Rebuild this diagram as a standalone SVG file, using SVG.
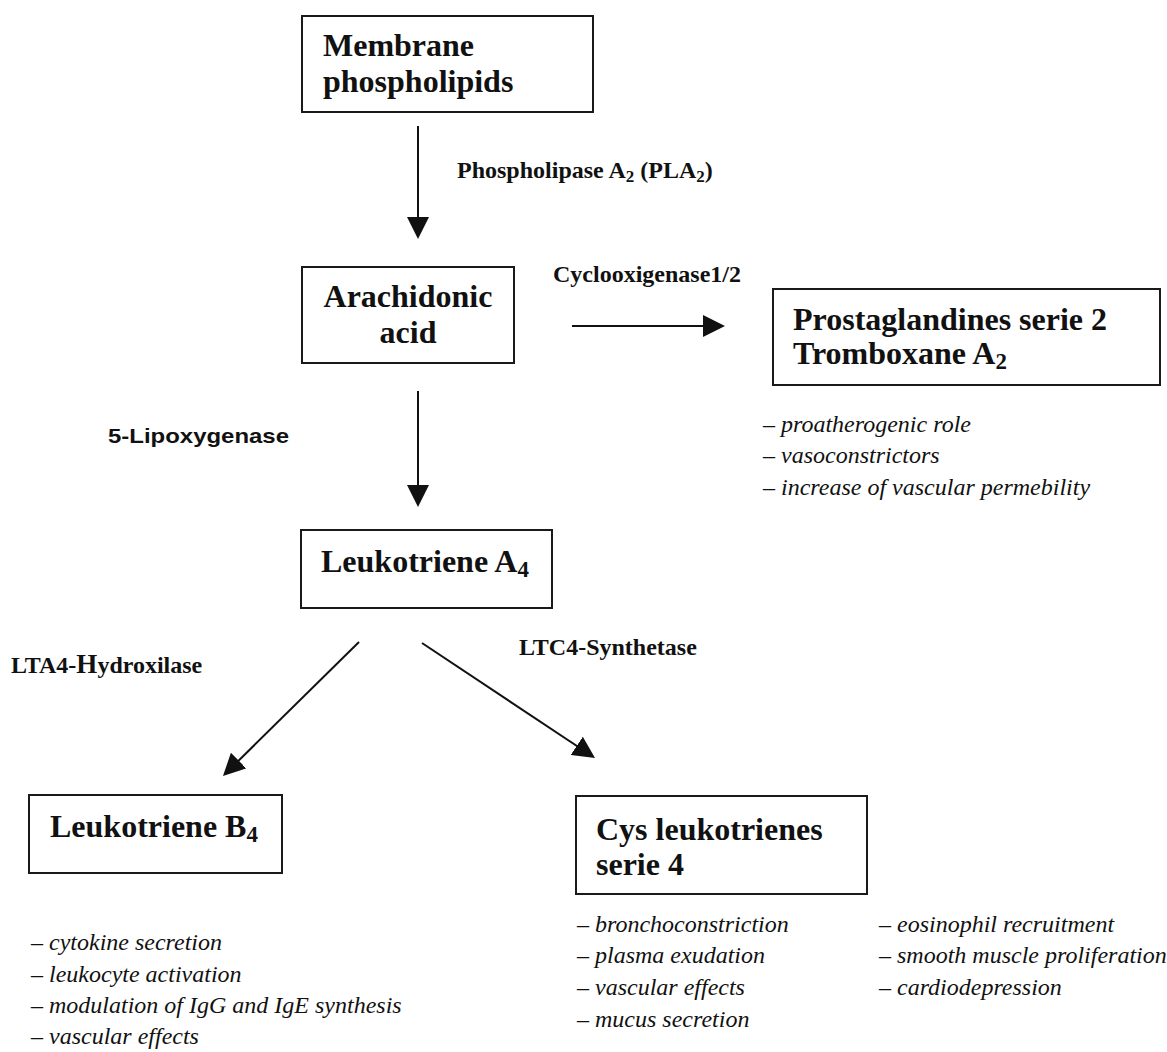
<svg xmlns="http://www.w3.org/2000/svg" width="1167" height="1052" viewBox="0 0 1167 1052">
<defs>
<style>
.box{fill:#fff;stroke:#1a1a1a;stroke-width:2}
.t{font-family:"Liberation Serif","Times New Roman",serif;font-weight:bold;font-size:32px;fill:#111}
.lbl{font-family:"Liberation Serif","Times New Roman",serif;font-weight:bold;font-size:24px;fill:#111}
.sans{font-family:"Liberation Sans",Arial,sans-serif;font-weight:bold;font-size:21px;fill:#111}
.it{font-family:"Liberation Serif","Times New Roman",serif;font-style:italic;font-size:24px;fill:#111}
.conn line{stroke:#111;stroke-width:2;marker-end:url(#ah)}
</style>
<marker id="ah" markerUnits="userSpaceOnUse" markerWidth="22" markerHeight="22" refX="12" refY="11" orient="auto">
<path d="M0,0 L22,11 L0,22 z" fill="#111"/>
</marker>
</defs>
<rect width="1167" height="1052" fill="#fff"/>

<g id="connectors" class="conn">
<line x1="418" y1="126" x2="418" y2="229"/>
<line x1="418" y1="391" x2="418" y2="497"/>
<line x1="572" y1="326" x2="715" y2="326"/>
<line x1="359" y1="642" x2="230.1" y2="769"/>
<line x1="422" y1="643" x2="586.7" y2="752.5"/>
</g>

<g id="edge-labels">
<text class="lbl" x="457" y="178">Phospholipase A<tspan font-size="17" dy="4">2</tspan><tspan dy="-4"> (PLA</tspan><tspan font-size="17" dy="4">2</tspan><tspan dy="-4">)</tspan></text>
<text class="lbl" x="553" y="282">Cyclooxigenase1/2</text>
<text class="sans" x="108" y="443" textLength="181" lengthAdjust="spacingAndGlyphs">5-Lipoxygenase</text>
<text class="lbl" x="11" y="673">LTA4-<tspan font-size="27">H</tspan>ydroxilase</text>
<text class="lbl" x="519" y="655" font-size="23">LTC4-Synthetase</text>
</g>

<g id="membrane-phospholipids">
<rect class="box" x="302" y="16" width="291" height="96"/>
<text class="t" x="323" y="56">Membrane</text>
<text class="t" x="323" y="92">phospholipids</text>
</g>

<g id="arachidonic-acid">
<rect class="box" x="302" y="267" width="212" height="96"/>
<text class="t" x="408" y="307" text-anchor="middle">Arachidonic</text>
<text class="t" x="408" y="343" text-anchor="middle">acid</text>
</g>

<g id="prostaglandines">
<rect class="box" x="773" y="289" width="387" height="96"/>
<text class="t" x="793" y="330">Prostaglandines serie 2</text>
<text class="t" x="793" y="364">Tromboxane A<tspan font-size="23" dy="5">2</tspan></text>
<text class="it" x="763" y="432">– proatherogenic role</text>
<text class="it" x="763" y="463">– vasoconstrictors</text>
<text class="it" x="763" y="495">– increase of vascular permebility</text>
</g>

<g id="leukotriene-a4">
<rect class="box" x="301" y="530" width="251" height="78"/>
<text class="t" x="321" y="572">Leukotriene A<tspan font-size="23" dy="5">4</tspan></text>
</g>

<g id="leukotriene-b4">
<rect class="box" x="29" y="795" width="253" height="78"/>
<text class="t" x="50" y="837">Leukotriene B<tspan font-size="23" dy="5">4</tspan></text>
<text class="it" x="31" y="950">– cytokine secretion</text>
<text class="it" x="31" y="982">– leukocyte activation</text>
<text class="it" x="31" y="1013">– modulation of IgG and IgE synthesis</text>
<text class="it" x="31" y="1044">– vascular effects</text>
</g>

<g id="cys-leukotrienes">
<rect class="box" x="576" y="796" width="291" height="98"/>
<text class="t" x="596" y="840">Cys leukotrienes</text>
<text class="t" x="596" y="875">serie 4</text>
<text class="it" x="577" y="932">– bronchoconstriction</text>
<text class="it" x="577" y="963">– plasma exudation</text>
<text class="it" x="577" y="995">– vascular effects</text>
<text class="it" x="577" y="1027">– mucus secretion</text>
<text class="it" x="879" y="932">– eosinophil recruitment</text>
<text class="it" x="879" y="963">– smooth muscle proliferation</text>
<text class="it" x="879" y="995">– cardiodepression</text>
</g>
</svg>
